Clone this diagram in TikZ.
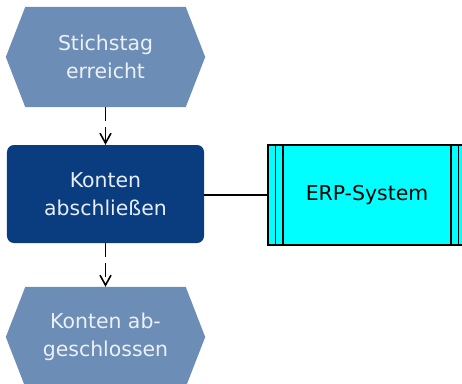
\documentclass[tikz,border=0pt]{standalone}
\usepackage{fontspec}
\setmainfont{DejaVu Sans}
\usetikzlibrary{arrows.meta,backgrounds,calc}
\definecolor{eventfill}{RGB}{108,141,182}
\definecolor{eventtext}{RGB}{236,241,247}
\definecolor{funcfill}{RGB}{10,60,128}
\definecolor{functext}{RGB}{232,238,246}
\definecolor{sysfill}{RGB}{0,255,255}

\begin{document}
\begin{tikzpicture}[x=1bp, y=-1bp,
	event/.style={minimum width=160bp, minimum height=100bp, inner sep=0pt, align=center, text=eventtext, font=\fontsize{20.5}{28}\selectfont},
	func/.style={fill=funcfill, rounded corners=7bp, minimum width=197bp, minimum height=98bp, inner sep=0pt, align=center, text=functext, font=\fontsize{20.5}{28}\selectfont},
	sysbox/.style={draw=black, line width=1.6bp, fill=sysfill, minimum width=198bp, minimum height=100bp, inner sep=0pt, font=\fontsize{20.5}{28}\selectfont},
	flow/.style={black, line width=1.6bp, dash pattern=on 14bp off 6bp, -{Straight Barb[length=10bp, width=11bp, line width=1.6bp]}},
	link/.style={black, line width=1.6bp}]
	\useasboundingbox (0,0) rectangle (462,383);
	\clip (0,0) rectangle (462,383);

	% events and function
	\node[event] (stichtag) at (105.5, 57) {Stichstag\\erreicht};
	\node[func] (konten) at (105.5, 194) {Konten\\abschließen};
	\node[event] (abgeschl) at (105.5, 337) {Konten ab-\\geschlossen};

	% hexagon bodies behind the event texts
	\begin{scope}[on background layer]
	\foreach \n in {stichtag, abgeschl}
		\fill[eventfill] (\n.north west) -- (\n.north east) -- ($(\n.east)+(19.5,0)$) -- (\n.south east) -- (\n.south west) -- ($(\n.west)+(-19.5,0)$) -- cycle;
	\end{scope}

	% application system
	\node[sysbox] (erp) at (367, 195) {ERP-System};
	\foreach \dx in {8.5, 16}
	{
		\draw[line width=1.5bp] ($(erp.north west)+(\dx,0)$) -- ($(erp.south west)+(\dx,0)$);
		\draw[line width=1.5bp] ($(erp.north east)+(-\dx,0)$) -- ($(erp.south east)+(-\dx,0)$);
	}

	% connectors
	\draw[flow] (stichtag) -- (konten);
	\draw[flow] (konten) -- (abgeschl);
	\draw[link] (erp.west) -- (erp.west -| konten.east);
\end{tikzpicture}
\end{document}
